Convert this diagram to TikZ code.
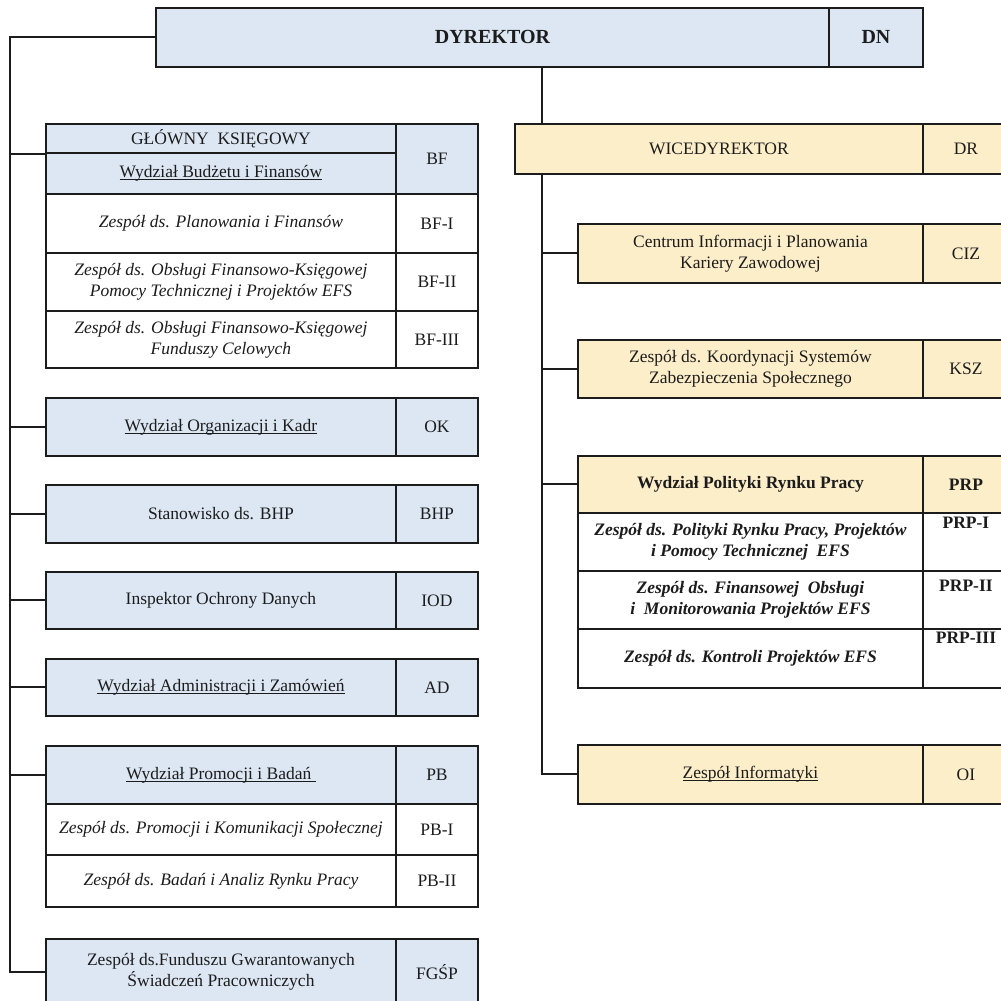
\documentclass[tikz,border=0pt]{standalone}
\usepackage{fontspec}
\setmainfont{Liberation Serif}
\definecolor{paleblue}{RGB}{220,231,243}
\definecolor{palesand}{RGB}{253,238,202}
\definecolor{ink}{RGB}{28,28,28}
\newcommand{\bodyfont}{\fontsize{17.5}{21}\selectfont}
\newcommand{\headfont}{\fontsize{20}{24}\selectfont\bfseries}
% underline sitting just under the baseline
\newcommand{\uln}[1]{\setbox0\hbox{#1}\rlap{\rule[-2.4pt]{\wd0}{1pt}}\box0}
% \cellbox{name}{x1}{y1}{x2}{y2}{style}{text}
\newcommand{\cellbox}[7]{%
  \node[#6, minimum width={#4-#2}, minimum height={#5-#3}] (#1) at (#2,#3) {#7};}
\begin{document}
\begin{tikzpicture}[x=1pt,y=-1pt,
  cell/.style={draw=ink, line width=1.9pt, anchor=north west, inner sep=0pt,
               align=center, text=ink, font=\bodyfont},
  bluecell/.style={cell, fill=paleblue},
  sandcell/.style={cell, fill=palesand},
  whitecell/.style={cell, fill=white},
  code/.style={text=ink, font=\bodyfont\bfseries, inner sep=0pt},
  link/.style={draw=ink, line width=2pt},
]
\path[use as bounding box, fill=white] (0,0) rectangle (1001,1001);
\clip (0,0) rectangle (1001,1001);

% director
\cellbox{dyr}{155}{7}{828}{66}{bluecell, font=\headfont}{DYREKTOR}
\cellbox{dn}{828}{7}{922}{66}{bluecell, font=\headfont}{DN}

% left column
\cellbox{gk}{45}{123}{395}{152}{bluecell}{GŁÓWNY~ KSIĘGOWY}
\cellbox{wbf}{45}{152}{395}{193}{bluecell}{\uln{Wydział Budżetu i Finansów}}
\cellbox{bf}{395}{123}{477}{193}{bluecell}{BF}
\cellbox{bf1}{45}{193}{395}{252}{whitecell, font=\bodyfont\itshape}{Zespół ds. Planowania i Finansów}
\cellbox{bf1c}{395}{193}{477}{252}{whitecell}{BF-I}
\cellbox{bf2}{45}{252}{395}{310}{whitecell, font=\bodyfont\itshape}{Zespół ds. Obsługi Finansowo-Księgowej\\Pomocy Technicznej i Projektów EFS}
\cellbox{bf2c}{395}{252}{477}{310}{whitecell}{BF-II}
\cellbox{bf3}{45}{310}{395}{367}{whitecell, font=\bodyfont\itshape}{Zespół ds. Obsługi Finansowo-Księgowej\\Funduszy Celowych}
\cellbox{bf3c}{395}{310}{477}{367}{whitecell}{BF-III}

\cellbox{ok}{45}{397}{395}{455}{bluecell}{\uln{Wydział Organizacji i Kadr}}
\cellbox{okc}{395}{397}{477}{455}{bluecell}{OK}
\cellbox{bhp}{45}{484}{395}{542}{bluecell}{Stanowisko ds. BHP}
\cellbox{bhpc}{395}{484}{477}{542}{bluecell}{BHP}
\cellbox{iod}{45}{571}{395}{628}{bluecell}{Inspektor Ochrony Danych}
\cellbox{iodc}{395}{571}{477}{628}{bluecell}{IOD}
\cellbox{ad}{45}{658}{395}{715}{bluecell}{\uln{Wydział Administracji i Zamówień}}
\cellbox{adc}{395}{658}{477}{715}{bluecell}{AD}

\cellbox{pb}{45}{745}{395}{803}{bluecell}{\uln{Wydział Promocji i Badań\ }}
\cellbox{pbc}{395}{745}{477}{803}{bluecell}{PB}
\cellbox{pb1}{45}{803}{395}{854}{whitecell, font=\bodyfont\itshape}{Zespół ds. Promocji i Komunikacji Społecznej}
\cellbox{pb1c}{395}{803}{477}{854}{whitecell}{PB-I}
\cellbox{pb2}{45}{854}{395}{906}{whitecell, font=\bodyfont\itshape}{Zespół ds. Badań i Analiz Rynku Pracy}
\cellbox{pb2c}{395}{854}{477}{906}{whitecell}{PB-II}

\cellbox{fg}{45}{938}{395}{1004}{bluecell}{Zespół ds.Funduszu Gwarantowanych\\Świadczeń Pracowniczych}
\cellbox{fgc}{395}{938}{477}{1004}{bluecell}{FGŚP}

% right column
\cellbox{wice}{514}{123}{922}{173}{sandcell}{WICEDYREKTOR}
\cellbox{dr}{922}{123}{1008}{173}{sandcell}{DR}
\cellbox{ciz}{577}{223}{922}{282}{sandcell}{Centrum Informacji i Planowania\\Kariery Zawodowej}
\cellbox{cizc}{922}{223}{1008}{282}{sandcell}{CIZ}
\cellbox{ksz}{577}{339}{922}{397}{sandcell}{Zespół ds. Koordynacji Systemów\\Zabezpieczenia Społecznego}
\cellbox{kszc}{922}{339}{1008}{397}{sandcell}{KSZ}

\cellbox{prp}{577}{455}{922}{512}{sandcell, font=\bodyfont\bfseries}{Wydział Polityki Rynku Pracy}
\cellbox{prpc}{922}{455}{1008}{512}{sandcell, font=\bodyfont\bfseries}{PRP}
\cellbox{prp1}{577}{512}{922}{570}{whitecell, font=\bodyfont\bfseries\itshape}{Zespół ds. Polityki Rynku Pracy, Projektów\\i Pomocy Technicznej~ EFS}
\cellbox{prp1c}{922}{512}{1008}{570}{whitecell}{}
\cellbox{prp2}{577}{570}{922}{628}{whitecell, font=\bodyfont\bfseries\itshape}{Zespół ds. Finansowej~ Obsługi\\i~ Monitorowania Projektów EFS}
\cellbox{prp2c}{922}{570}{1008}{628}{whitecell}{}
\cellbox{prp3}{577}{628}{922}{687}{whitecell, font=\bodyfont\bfseries\itshape}{Zespół ds. Kontroli Projektów EFS}
\cellbox{prp3c}{922}{628}{1008}{687}{whitecell}{}
\node[code] (prp1t) at ([yshift=-11]prp1c.north) {PRP-I};
\node[code] (prp2t) at ([yshift=-16]prp2c.north) {PRP-II};
\node[code] (prp3t) at ([yshift=-10]prp3c.north) {PRP-III};

\cellbox{oi}{577}{744}{922}{803}{sandcell}{\uln{Zespół Informatyki}}
\cellbox{oic}{922}{744}{1008}{803}{sandcell}{OI}

% connectors
\coordinate (spineL) at (10,37);
\coordinate (spineR) at (542,66);
\draw[link] (dyr.west) -- (spineL |- dyr.west) -- (spineL |- fg.west) -- (fg.west);
\draw[link] (spineL |- gk.south west) -- (gk.south west);
\foreach \n in {ok,bhp,iod,ad,pb}
  \draw[link] (spineL |- \n.west) -- (\n.west);

\draw[link] (spineR |- dyr.south) -- (spineR |- wice.north);
\draw[link] (spineR |- wice.south) -- (spineR |- oi.west) -- (oi.west);
\foreach \n in {ciz,ksz,prp}
  \draw[link] (spineR |- \n.west) -- (\n.west);
\end{tikzpicture}
\end{document}
